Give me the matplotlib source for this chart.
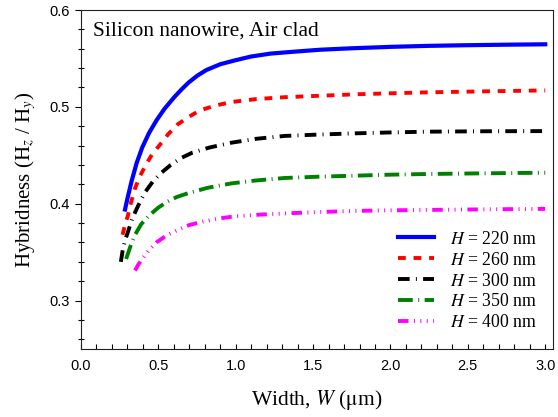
import numpy as np
import matplotlib
matplotlib.use("Agg")
import matplotlib.pyplot as plt
from matplotlib.ticker import MultipleLocator, FormatStrFormatter

plt.rcParams['mathtext.fontset'] = 'stix'

# hybridness vs waveguide width for each core height
heights = [220, 260, 300, 350, 400]

w_220 = [0.285, 0.30, 0.327, 0.36, 0.396, 0.44, 0.488, 0.54, 0.603, 0.65, 0.695, 0.75, 0.81,
         0.9, 0.995, 1.1, 1.225, 1.38, 1.547, 1.75, 2.008, 2.25, 2.468, 2.75, 3.0]
h_220 = [0.394, 0.405, 0.423, 0.442, 0.458, 0.473, 0.486, 0.498, 0.510, 0.518, 0.525, 0.532, 0.538,
         0.544, 0.548, 0.552, 0.555, 0.557, 0.559, 0.5605, 0.562, 0.563, 0.5636, 0.5642, 0.5646]

w_260 = [0.269, 0.285, 0.304, 0.325, 0.35, 0.38, 0.419, 0.46, 0.511, 0.565, 0.626, 0.69, 0.764,
         0.86, 0.972, 1.13, 1.317, 1.55, 1.778, 2.0, 2.238, 2.6, 3.0]
h_260 = [0.368, 0.378, 0.388, 0.402, 0.416, 0.428, 0.440, 0.451, 0.461, 0.472, 0.482, 0.489, 0.496,
         0.501, 0.505, 0.508, 0.510, 0.5115, 0.513, 0.514, 0.515, 0.516, 0.517]

w_300 = [0.258, 0.27, 0.285, 0.304, 0.335, 0.373, 0.415, 0.465, 0.52, 0.58, 0.645, 0.718, 0.83,
         0.972, 1.13, 1.317, 1.55, 1.778, 2.0, 2.238, 2.6, 3.0]
h_300 = [0.340, 0.352, 0.362, 0.371, 0.386, 0.399, 0.412, 0.423, 0.432, 0.440, 0.447, 0.4526, 0.458,
         0.463, 0.467, 0.470, 0.4715, 0.4727, 0.4736, 0.4744, 0.4748, 0.475]

w_350 = [0.292, 0.32, 0.35, 0.39, 0.442, 0.5, 0.557, 0.62, 0.695, 0.82, 0.972, 1.13, 1.317,
         1.55, 1.778, 2.0, 2.238, 2.6, 3.0]
h_350 = [0.343, 0.356, 0.368, 0.379, 0.388, 0.396, 0.402, 0.407, 0.411, 0.4165, 0.421, 0.424, 0.4266,
         0.428, 0.429, 0.430, 0.4307, 0.4314, 0.432]

w_400 = [0.35, 0.37, 0.396, 0.44, 0.488, 0.55, 0.626, 0.7, 0.787, 0.88, 0.995, 1.15, 1.317,
         1.55, 1.778, 2.0, 2.238, 2.6, 3.0]
h_400 = [0.331, 0.337, 0.343, 0.352, 0.360, 0.367, 0.373, 0.378, 0.3815, 0.3845, 0.387, 0.3887, 0.390,
         0.3915, 0.3926, 0.3932, 0.3936, 0.3942, 0.3947]

widths = [w_220, w_260, w_300, w_350, w_400]
hyb = [h_220, h_260, h_300, h_350, h_400]
colors = ['#0000ff', '#ff0000', '#000000', '#008000', '#ff00ff']
dashes = ['-',
          (0, (2, 2)),
          (0, (3, 1.6, 0.25, 1.6)),
          (0, (3.8, 1.4, 0.25, 1.4)),
          (0, (2.7, 1.4, 0.25, 1.4, 0.25, 1.4, 0.25, 1.4))]

fig = plt.figure(figsize=(5.58, 4.17), dpi=100)
ax = fig.add_axes([0.145, 0.163, 0.846, 0.813])

for H, w, h, c, ls in zip(heights, widths, hyb, colors, dashes):
    ax.plot(w, h, color=c, linestyle=ls, lw=3.0 if H == 220 else 2.8,
            label=r'$H$ = %d nm' % H)

ax.set_xlim(0, 3.05)
ax.set_ylim(0.25, 0.6)
ax.xaxis.set_major_locator(MultipleLocator(0.5))
ax.xaxis.set_minor_locator(MultipleLocator(0.1))
ax.yaxis.set_minor_locator(MultipleLocator(0.02))
ax.set_yticks([0.3, 0.4, 0.5, 0.6])
ax.xaxis.set_major_formatter(FormatStrFormatter('%.1f'))
ax.yaxis.set_major_formatter(FormatStrFormatter('%.1f'))

ax.tick_params(axis='x', which='both', direction='in', length=3.5, width=0.8,
               labelsize=10.5, pad=7)
ax.tick_params(axis='y', which='major', direction='out', length=4, width=0.8,
               labelsize=10.5, pad=4)
ax.tick_params(axis='y', which='minor', direction='inout', length=5, width=0.8)
for lbl in ax.get_xticklabels() + ax.get_yticklabels():
    lbl.set_family('Liberation Sans')
for s in ax.spines.values():
    s.set_linewidth(0.8)
    s.set_color('#222222')

ax.set_xlabel(r'Width, $W$ ($\mathrm{\mu}$m)', family='Liberation Serif',
              fontsize=15.5, labelpad=11)
ax.set_ylabel(r'Hybridness (H$_z$ / H$_y$)', family='Liberation Serif',
              fontsize=15, labelpad=8)
ax.text(0.026, 0.925, 'Silicon nanowire, Air clad', transform=ax.transAxes,
        family='Liberation Serif', fontsize=15.5)

leg = ax.legend(loc='lower right', bbox_to_anchor=(1.0, 0.005), frameon=False,
                prop={'family': 'Liberation Serif', 'size': 12.8},
                handlelength=2.0, labelspacing=0.22, handletextpad=0.9)

fig.savefig('out.png', dpi=100)
